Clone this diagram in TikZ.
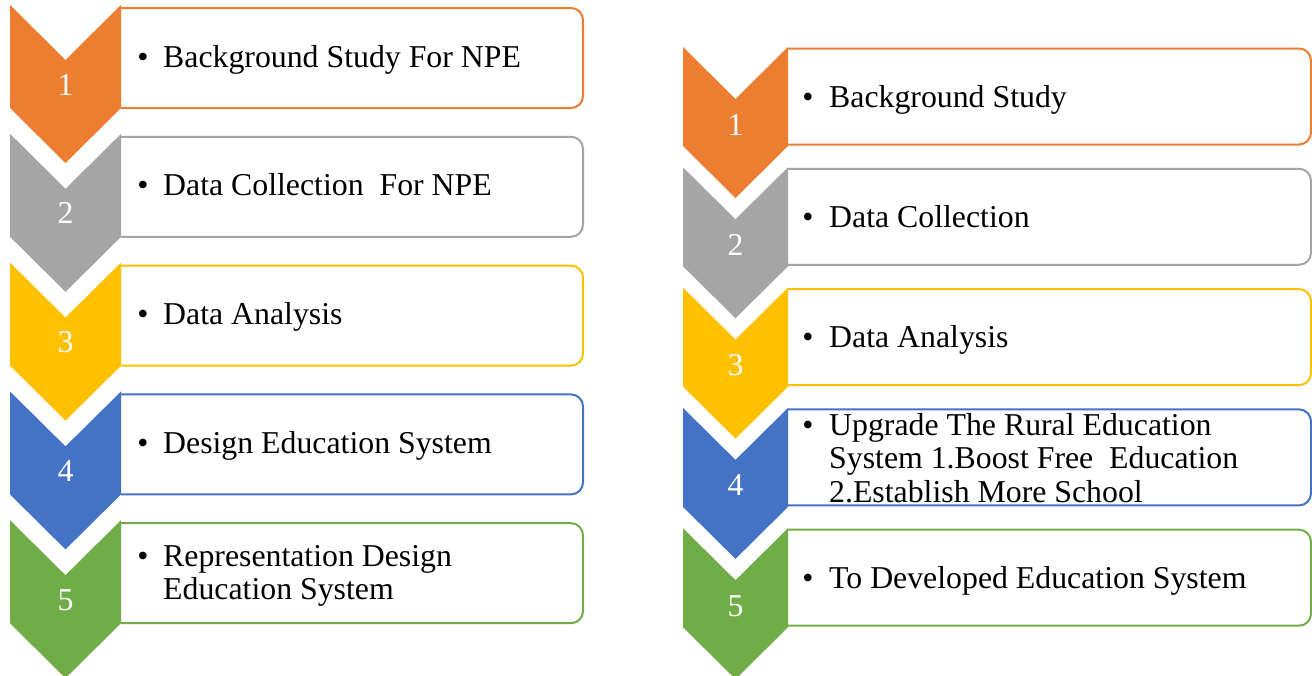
\documentclass[tikz,border=0pt]{standalone}
\usepackage{fontspec}
\setmainfont{Liberation Serif}
\definecolor{c1}{HTML}{ED7D31}
\definecolor{c2}{HTML}{A5A5A5}
\definecolor{c3}{HTML}{FFC000}
\definecolor{c4}{HTML}{4472C4}
\definecolor{c5}{HTML}{70AD47}
\newcommand{\bigfont}{\fontsize{31.8}{33.5}\selectfont}
\newcommand{\lines}[1]{\begin{tabular}[t]{@{}l@{}}#1\end{tabular}}
\tikzset{
  num/.style={text=white, font=\bigfont, anchor=base, inner sep=0pt},
  bul/.style={font=\bigfont, anchor=base, inner sep=0pt},
  itemtext/.style={font=\bigfont, anchor=base west, inner sep=0pt},
  card/.style={draw=#1, line width=2pt, rounded corners=12pt},
}
\begin{document}
\begin{tikzpicture}[x=1pt,y=-1pt]
\useasboundingbox (0,0) rectangle (1312,675);
\fill[white] (0,0) rectangle (1312,675);
% ---------- left column ----------
\foreach \i/\c/\t in {1/c1/5, 2/c2/133.8, 3/c3/262.6, 4/c4/391.4, 5/c5/520.2}{
  \draw[card=\c] (121,\t+3) -- (583,\t+3) -- (583,\t+103) -- (121,\t+103);
  \fill[\c] (10,\t) -- (65.5,\t+55) -- (121,\t) -- (121,\t+103) -- (65.5,\t+158) -- (10,\t+103) -- cycle;
  \node[num] (Ln\i) at (65.5,\t+90) {\i};
}
\node[bul] (Lb1) at (143,67) {\textbullet};
\node[itemtext] (Lt1) at (163,67) {Background Study For NPE};
\node[bul] (Lb2) at (143,195.8) {\textbullet};
\node[itemtext] (Lt2) at (163,195.8) {Data Collection\ \ For NPE};
\node[bul] (Lb3) at (143,324.6) {\textbullet};
\node[itemtext] (Lt3) at (163,324.6) {Data Analysis};
\node[bul] (Lb4) at (143,453.4) {\textbullet};
\node[itemtext] (Lt4) at (163,453.4) {Design Education System};
\node[bul] (Lb5) at (143,566) {\textbullet};
\node[itemtext] (Lt5) at (163,566) {\lines{Representation Design\\Education System}};
% ---------- right column ----------
\foreach \i/\c/\t in {1/c1/47, 2/c2/167.3, 3/c3/287.6, 4/c4/407.9, 5/c5/528.2}{
  \draw[card=\c] (788,\t+1.5) -- (1311,\t+1.5) -- (1311,\t+97.5) -- (788,\t+97.5);
  \fill[\c] (683,\t) -- (735.5,\t+52) -- (788,\t) -- (788,\t+99) -- (735.5,\t+151) -- (683,\t+99) -- cycle;
  \node[num] (Rn\i) at (735.5,\t+88) {\i};
}
\node[bul] (Rb1) at (808,107) {\textbullet};
\node[itemtext] (Rt1) at (829,107) {Background Study};
\node[bul] (Rb2) at (808,227.3) {\textbullet};
\node[itemtext] (Rt2) at (829,227.3) {Data Collection};
\node[bul] (Rb3) at (808,347.6) {\textbullet};
\node[itemtext] (Rt3) at (829,347.6) {Data Analysis};
\node[bul] (Rb4) at (808,435) {\textbullet};
\node[itemtext] (Rt4) at (829,435) {\lines{Upgrade The Rural Education\\System 1.Boost Free\ \ Education\\2.Establish More School}};
\node[bul] (Rb5) at (808,588.5) {\textbullet};
\node[itemtext] (Rt5) at (829,588.5) {To Developed Education System};
\end{tikzpicture}
\end{document}
